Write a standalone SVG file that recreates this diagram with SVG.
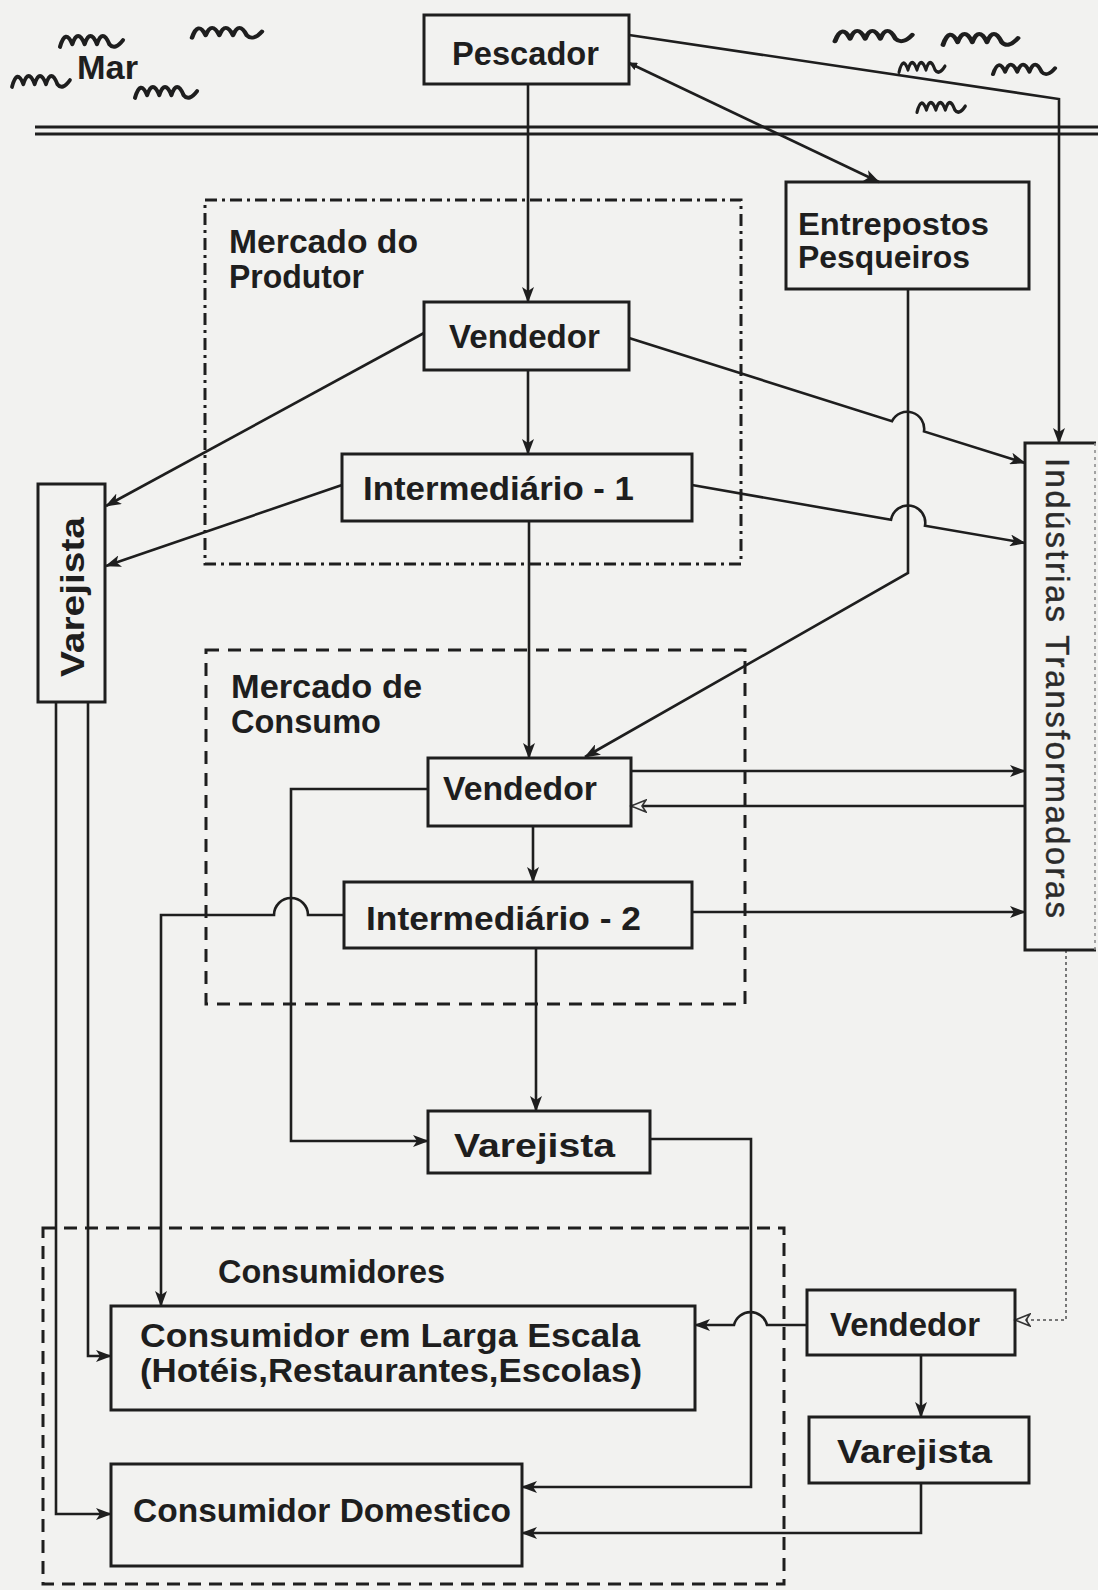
<svg xmlns="http://www.w3.org/2000/svg" width="1098" height="1590" viewBox="0 0 1098 1590">
<style>
.bg{fill:#f2f2f0}
.box{fill:none;stroke:#1e1e1e;stroke-width:3}
.ln{fill:none;stroke:#1e1e1e;stroke-width:2.6}
.lnf{fill:none;stroke:#777;stroke-width:2;stroke-dasharray:3 3}
.wave{fill:none;stroke:#1e1e1e;stroke-width:3;stroke-linecap:round;stroke-linejoin:round}
.t{font-family:"Liberation Sans",Arial,sans-serif;font-weight:bold;font-size:34px;fill:#1e1e1e}
.ts{font-family:"Liberation Sans",Arial,sans-serif;font-weight:bold;font-size:31px;fill:#1e1e1e}
.tr{font-family:"Liberation Sans",Arial,sans-serif;font-weight:normal;font-size:33px;fill:#2a2a2a;stroke:#2a2a2a;stroke-width:0.4}
.dd{fill:none;stroke:#1e1e1e;stroke-width:3;stroke-dasharray:12 5 3 5}
.da{fill:none;stroke:#1e1e1e;stroke-width:3;stroke-dasharray:13 9}
.dc{fill:none;stroke:#1e1e1e;stroke-width:3;stroke-dasharray:13 8}
</style>
<defs>
<marker id="a" markerUnits="userSpaceOnUse" markerWidth="16" markerHeight="12" viewBox="0 0 16 12" refX="15" refY="6" orient="auto">
<path d="M0,0 L16,6 L0,12 L4,6 z" fill="#1e1e1e"/>
</marker>
<marker id="as" markerUnits="userSpaceOnUse" markerWidth="9" markerHeight="8" viewBox="0 0 9 8" refX="8" refY="4" orient="auto-start-reverse">
<path d="M0,0 L9,4 L0,8 z" fill="#1e1e1e"/>
</marker>
<marker id="ao" markerUnits="userSpaceOnUse" markerWidth="18" markerHeight="14" viewBox="0 0 18 14" refX="16" refY="7" orient="auto">
<path d="M1,1 L16,7 L1,13 L5,7 z" fill="#f2f2f0" stroke="#333" stroke-width="1.6"/>
</marker>
<path id="wv" d="M0,11 Q4,-3 9,9 Q13,-3 18,9 Q22,-3 27,9 Q31,-3 36,9 Q40,14 46,6"/>
</defs>
<rect class="bg" x="0" y="0" width="1098" height="1590"/>

<g id="sea">
<use href="#wv" class="wave" transform="translate(60,32) scale(1.37,1.35)"/>
<use href="#wv" class="wave" transform="translate(192,24) scale(1.52,1.25)"/>
<use href="#wv" class="wave" transform="translate(12,72) scale(1.26,1.35)"/>
<use href="#wv" class="wave" transform="translate(135,83) scale(1.35,1.35)"/>
<use href="#wv" class="wave" transform="translate(835,27) scale(1.68,1.3)"/>
<use href="#wv" class="wave" transform="translate(943,30) scale(1.63,1.35)"/>
<use href="#wv" class="wave" transform="translate(899,59) scale(1.0,1.2)"/>
<use href="#wv" class="wave" transform="translate(993,61) scale(1.35,1.2)"/>
<use href="#wv" class="wave" transform="translate(917,99) scale(1.05,1.2)"/>
<text class="t" x="77" y="79" textLength="61" lengthAdjust="spacingAndGlyphs">Mar</text>
<line x1="35" y1="127" x2="1098" y2="127" stroke="#1e1e1e" stroke-width="3"/>
<line x1="35" y1="134" x2="1098" y2="134" stroke="#1e1e1e" stroke-width="3"/>
</g>

<g id="mercado-produtor">
<rect class="dd" x="205" y="200" width="536" height="364"/>
<text class="t" x="229" y="253" textLength="189" lengthAdjust="spacingAndGlyphs">Mercado do</text>
<text class="t" x="229" y="288" textLength="135" lengthAdjust="spacingAndGlyphs">Produtor</text>
</g>
<g id="mercado-consumo">
<rect class="da" x="206" y="650" width="539" height="354"/>
<text class="t" x="231" y="698" textLength="191" lengthAdjust="spacingAndGlyphs">Mercado de</text>
<text class="t" x="231" y="733" textLength="150" lengthAdjust="spacingAndGlyphs">Consumo</text>
</g>
<g id="consumidores">
<rect class="dc" x="43" y="1228" width="741" height="356"/>
<text class="t" x="218" y="1283" textLength="227" lengthAdjust="spacingAndGlyphs">Consumidores</text>
</g>

<g id="connectors">
<path class="ln" d="M528 84 L528 302" marker-end="url(#a)"/>
<path class="ln" d="M629 63 L879 182" marker-end="url(#a)" marker-start="url(#as)"/>
<path class="ln" d="M629 35 L1059 99 L1059 443" marker-end="url(#a)"/>
<path class="ln" d="M908 289 L908 573 L585 757" marker-end="url(#a)"/>
<path class="ln" d="M424 333 L106 506" marker-end="url(#a)"/>
<path class="ln" d="M342 485 L106 566" marker-end="url(#a)"/>
<path class="ln" d="M528 370 L528 454" marker-end="url(#a)"/>
<path class="ln" d="M629 338 L892 421.2 A17 17 0 0 1 924 431.4 L1025 463" marker-end="url(#a)"/>
<path class="ln" d="M692 485 L891 519.8 A17 17 0 0 1 925 525.7 L1025 543" marker-end="url(#a)"/>
<path class="ln" d="M529 521 L529 758" marker-end="url(#a)"/>
<path class="ln" d="M631 771 L1025 771" marker-end="url(#a)"/>
<path class="ln" d="M1025 806 L631 806" marker-end="url(#ao)"/>
<path class="ln" d="M533 826 L533 882" marker-end="url(#a)"/>
<path class="ln" d="M428 789 L291 789 L291 1141 L428 1141" marker-end="url(#a)"/>
<path class="ln" d="M344 915 L308 915 A17 17 0 0 0 274 915 L161 915 L161 1306" marker-end="url(#a)"/>
<path class="ln" d="M692 912 L1025 912" marker-end="url(#a)"/>
<path class="ln" d="M536 948 L536 1111" marker-end="url(#a)"/>
<path class="ln" d="M650 1139 L751 1139 L751 1487 L522 1487" marker-end="url(#a)"/>
<path class="ln" d="M88 702 L88 1356 L111 1356" marker-end="url(#a)"/>
<path class="ln" d="M56 702 L56 1514 L111 1514" marker-end="url(#a)"/>
<path class="lnf" d="M1066 950 L1066 1320 L1015 1320" marker-end="url(#ao)"/>
<path class="ln" d="M807 1325 L767 1325 A17 17 0 0 0 734 1325 L695 1325" marker-end="url(#a)"/>
<path class="ln" d="M921 1355 L921 1417" marker-end="url(#a)"/>
<path class="ln" d="M921 1483 L921 1533 L522 1533" marker-end="url(#a)"/>
</g>

<g id="pescador">
<rect class="box" x="424" y="15" width="205" height="69"/>
<text class="t" x="452" y="65" textLength="147" lengthAdjust="spacingAndGlyphs">Pescador</text>
</g>
<g id="entrepostos">
<rect class="box" x="786" y="182" width="243" height="107"/>
<text class="ts" x="798" y="235" textLength="191" lengthAdjust="spacingAndGlyphs">Entrepostos</text>
<text class="ts" x="798" y="268" textLength="172" lengthAdjust="spacingAndGlyphs">Pesqueiros</text>
</g>
<g id="vendedor-produtor">
<rect class="box" x="424" y="302" width="205" height="68"/>
<text class="t" x="449" y="348" textLength="151" lengthAdjust="spacingAndGlyphs">Vendedor</text>
</g>
<g id="intermediario-1">
<rect class="box" x="342" y="454" width="350" height="67"/>
<text class="t" x="363" y="500" textLength="271" lengthAdjust="spacingAndGlyphs">Intermediário - 1</text>
</g>
<g id="varejista-esq">
<rect class="box" x="38" y="484" width="67" height="218"/>
<text class="t" transform="translate(84,597) rotate(-90)" x="0" y="0" text-anchor="middle" textLength="160" lengthAdjust="spacingAndGlyphs">Varejista</text>
</g>
<g id="industrias">
<path class="box" d="M1096 443 L1025 443 L1025 950 L1096 950"/>
<line x1="1095" y1="443" x2="1095" y2="950" stroke="#888" stroke-width="1.5" stroke-dasharray="3 4"/>
<text class="tr" transform="translate(1046,688) rotate(90)" x="0" y="0" text-anchor="middle" textLength="460" lengthAdjust="spacing">Indústrias  Transformadoras</text>
</g>
<g id="vendedor-consumo">
<rect class="box" x="428" y="758" width="203" height="68"/>
<text class="t" x="443" y="800" textLength="154" lengthAdjust="spacingAndGlyphs">Vendedor</text>
</g>
<g id="intermediario-2">
<rect class="box" x="344" y="882" width="348" height="66"/>
<text class="t" x="366" y="930" textLength="275" lengthAdjust="spacingAndGlyphs">Intermediário - 2</text>
</g>
<g id="varejista-meio">
<rect class="box" x="428" y="1111" width="222" height="62"/>
<text class="t" x="454" y="1157" textLength="161" lengthAdjust="spacingAndGlyphs">Varejista</text>
</g>
<g id="consumidor-larga">
<rect class="box" x="111" y="1306" width="584" height="104"/>
<text class="t" x="140" y="1347" textLength="500" lengthAdjust="spacingAndGlyphs">Consumidor em Larga Escala</text>
<text class="t" x="140" y="1382" textLength="502" lengthAdjust="spacingAndGlyphs">(Hotéis,Restaurantes,Escolas)</text>
</g>
<g id="consumidor-domestico">
<rect class="box" x="111" y="1464" width="411" height="102"/>
<text class="t" x="133" y="1522" textLength="378" lengthAdjust="spacingAndGlyphs">Consumidor Domestico</text>
</g>
<g id="vendedor-ind">
<rect class="box" x="807" y="1290" width="208" height="65"/>
<text class="t" x="830" y="1336" textLength="150" lengthAdjust="spacingAndGlyphs">Vendedor</text>
</g>
<g id="varejista-ind">
<rect class="box" x="809" y="1417" width="220" height="66"/>
<text class="t" x="837" y="1463" textLength="155" lengthAdjust="spacingAndGlyphs">Varejista</text>
</g>
</svg>
